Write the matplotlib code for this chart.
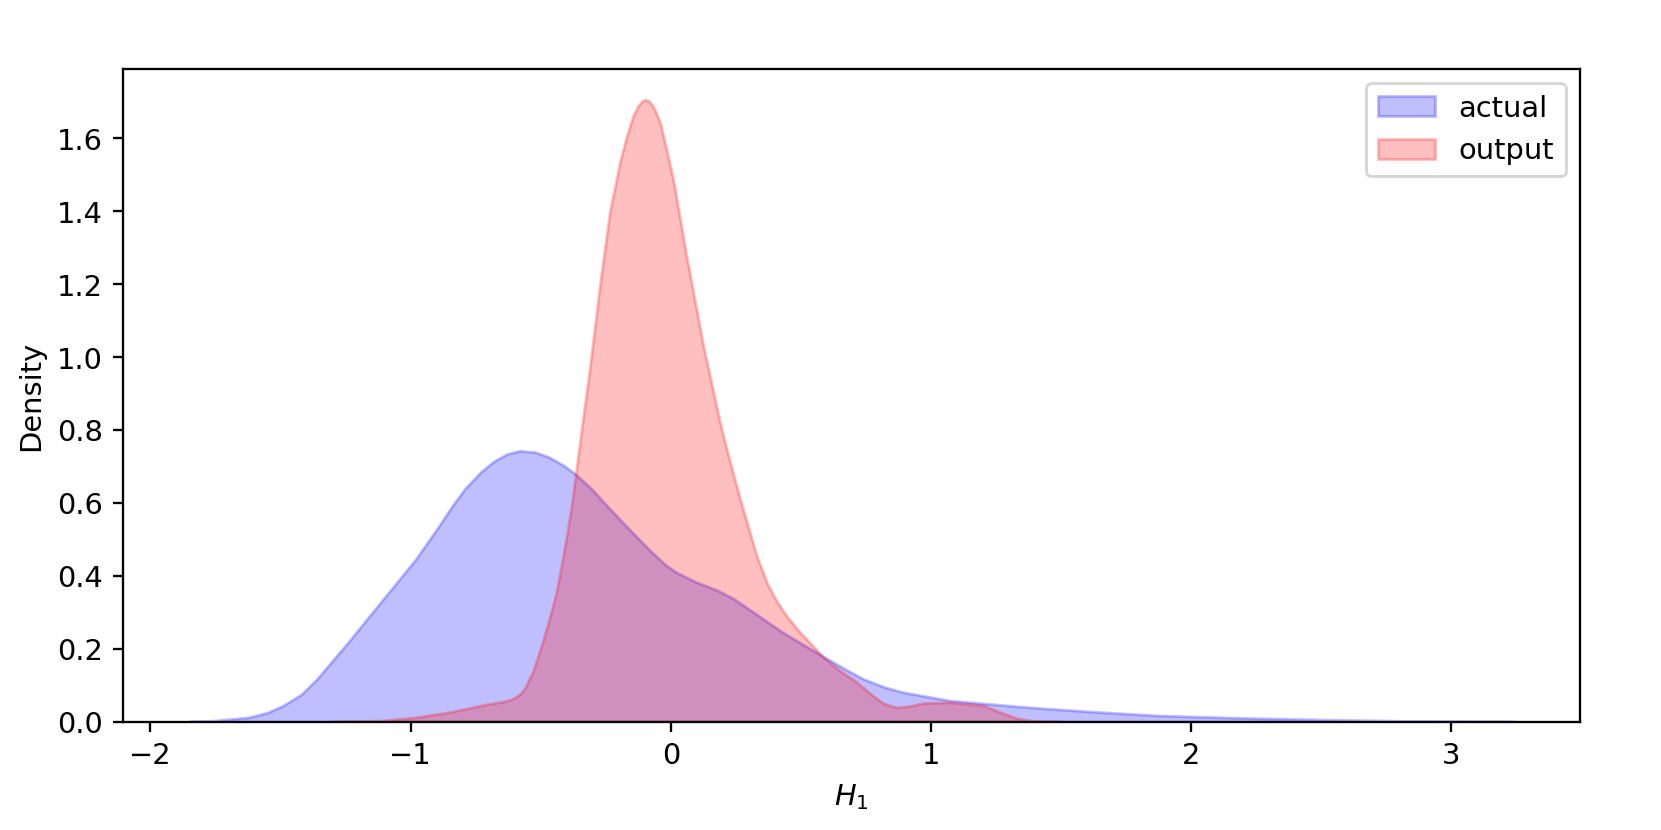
import matplotlib
matplotlib.use("Agg")
import matplotlib.pyplot as plt
import numpy as np

# density curves
actual_x = [-1.85, -1.75, -1.62, -1.55, -1.49, -1.42, -1.36, -1.24, -1.11, -0.98,
            -0.89, -0.84, -0.79, -0.73, -0.68, -0.63, -0.58, -0.52, -0.47, -0.41,
            -0.36, -0.30, -0.24, -0.16, -0.08, -0.02, 0.02, 0.10, 0.18, 0.24,
            0.30, 0.43, 0.59, 0.67, 0.74, 0.82, 0.89, 1.07, 1.33, 1.46,
            1.65, 1.87, 2.20, 2.56, 2.90, 3.24]
actual_y = [0.0, 0.003, 0.012, 0.025, 0.044, 0.075, 0.117, 0.218, 0.332, 0.446,
            0.538, 0.592, 0.640, 0.685, 0.714, 0.734, 0.743, 0.739, 0.726, 0.702,
            0.675, 0.635, 0.588, 0.528, 0.470, 0.430, 0.410, 0.382, 0.360, 0.338,
            0.309, 0.245, 0.177, 0.144, 0.117, 0.095, 0.081, 0.058, 0.042, 0.035,
            0.026, 0.017, 0.010, 0.005, 0.001, 0.0]

output_x = [-1.30, -1.11, -0.98, -0.85, -0.72, -0.645, -0.61, -0.58, -0.56, -0.53,
            -0.51, -0.49, -0.46, -0.44, -0.42, -0.40, -0.38, -0.363, -0.338, -0.312,
            -0.273, -0.235, -0.196, -0.17, -0.145, -0.125, -0.11, -0.10, -0.085, -0.07,
            -0.055, -0.04, -0.02, 0.009, 0.06, 0.125, 0.189, 0.214, 0.266, 0.33,
            0.37, 0.407, 0.45, 0.497, 0.586, 0.65, 0.715, 0.77, 0.817, 0.869,
            0.92, 0.971, 1.07, 1.138, 1.202, 1.266, 1.331, 1.39, 1.50]
output_y = [0.0, 0.003, 0.012, 0.026, 0.046, 0.055, 0.062, 0.075, 0.093, 0.138,
            0.180, 0.225, 0.300, 0.355, 0.430, 0.510, 0.600, 0.693, 0.830, 0.967,
            1.196, 1.397, 1.534, 1.605, 1.662, 1.690, 1.702, 1.706, 1.703, 1.690,
            1.668, 1.640, 1.580, 1.488, 1.278, 1.031, 0.821, 0.748, 0.611, 0.455,
            0.380, 0.330, 0.285, 0.245, 0.177, 0.140, 0.108, 0.075, 0.050, 0.039,
            0.043, 0.051, 0.053, 0.049, 0.044, 0.026, 0.009, 0.002, 0.0]

fig = plt.figure(figsize=(8, 4), dpi=207.625)
ax = fig.add_axes([0.0742, 0.1305, 0.877, 0.7864])

ax.fill_between(actual_x, actual_y, facecolor='blue', edgecolor='blue',
                alpha=0.25, linewidth=1, label='actual')
ax.fill_between(output_x, output_y, facecolor='red', edgecolor='red',
                alpha=0.25, linewidth=1, label='output')

ax.set_ylim(bottom=0)
ax.set_xlabel('$H_1$')
ax.set_ylabel('Density')
ax.legend(loc='upper right')

fig.savefig('out.png', dpi=207.625)
